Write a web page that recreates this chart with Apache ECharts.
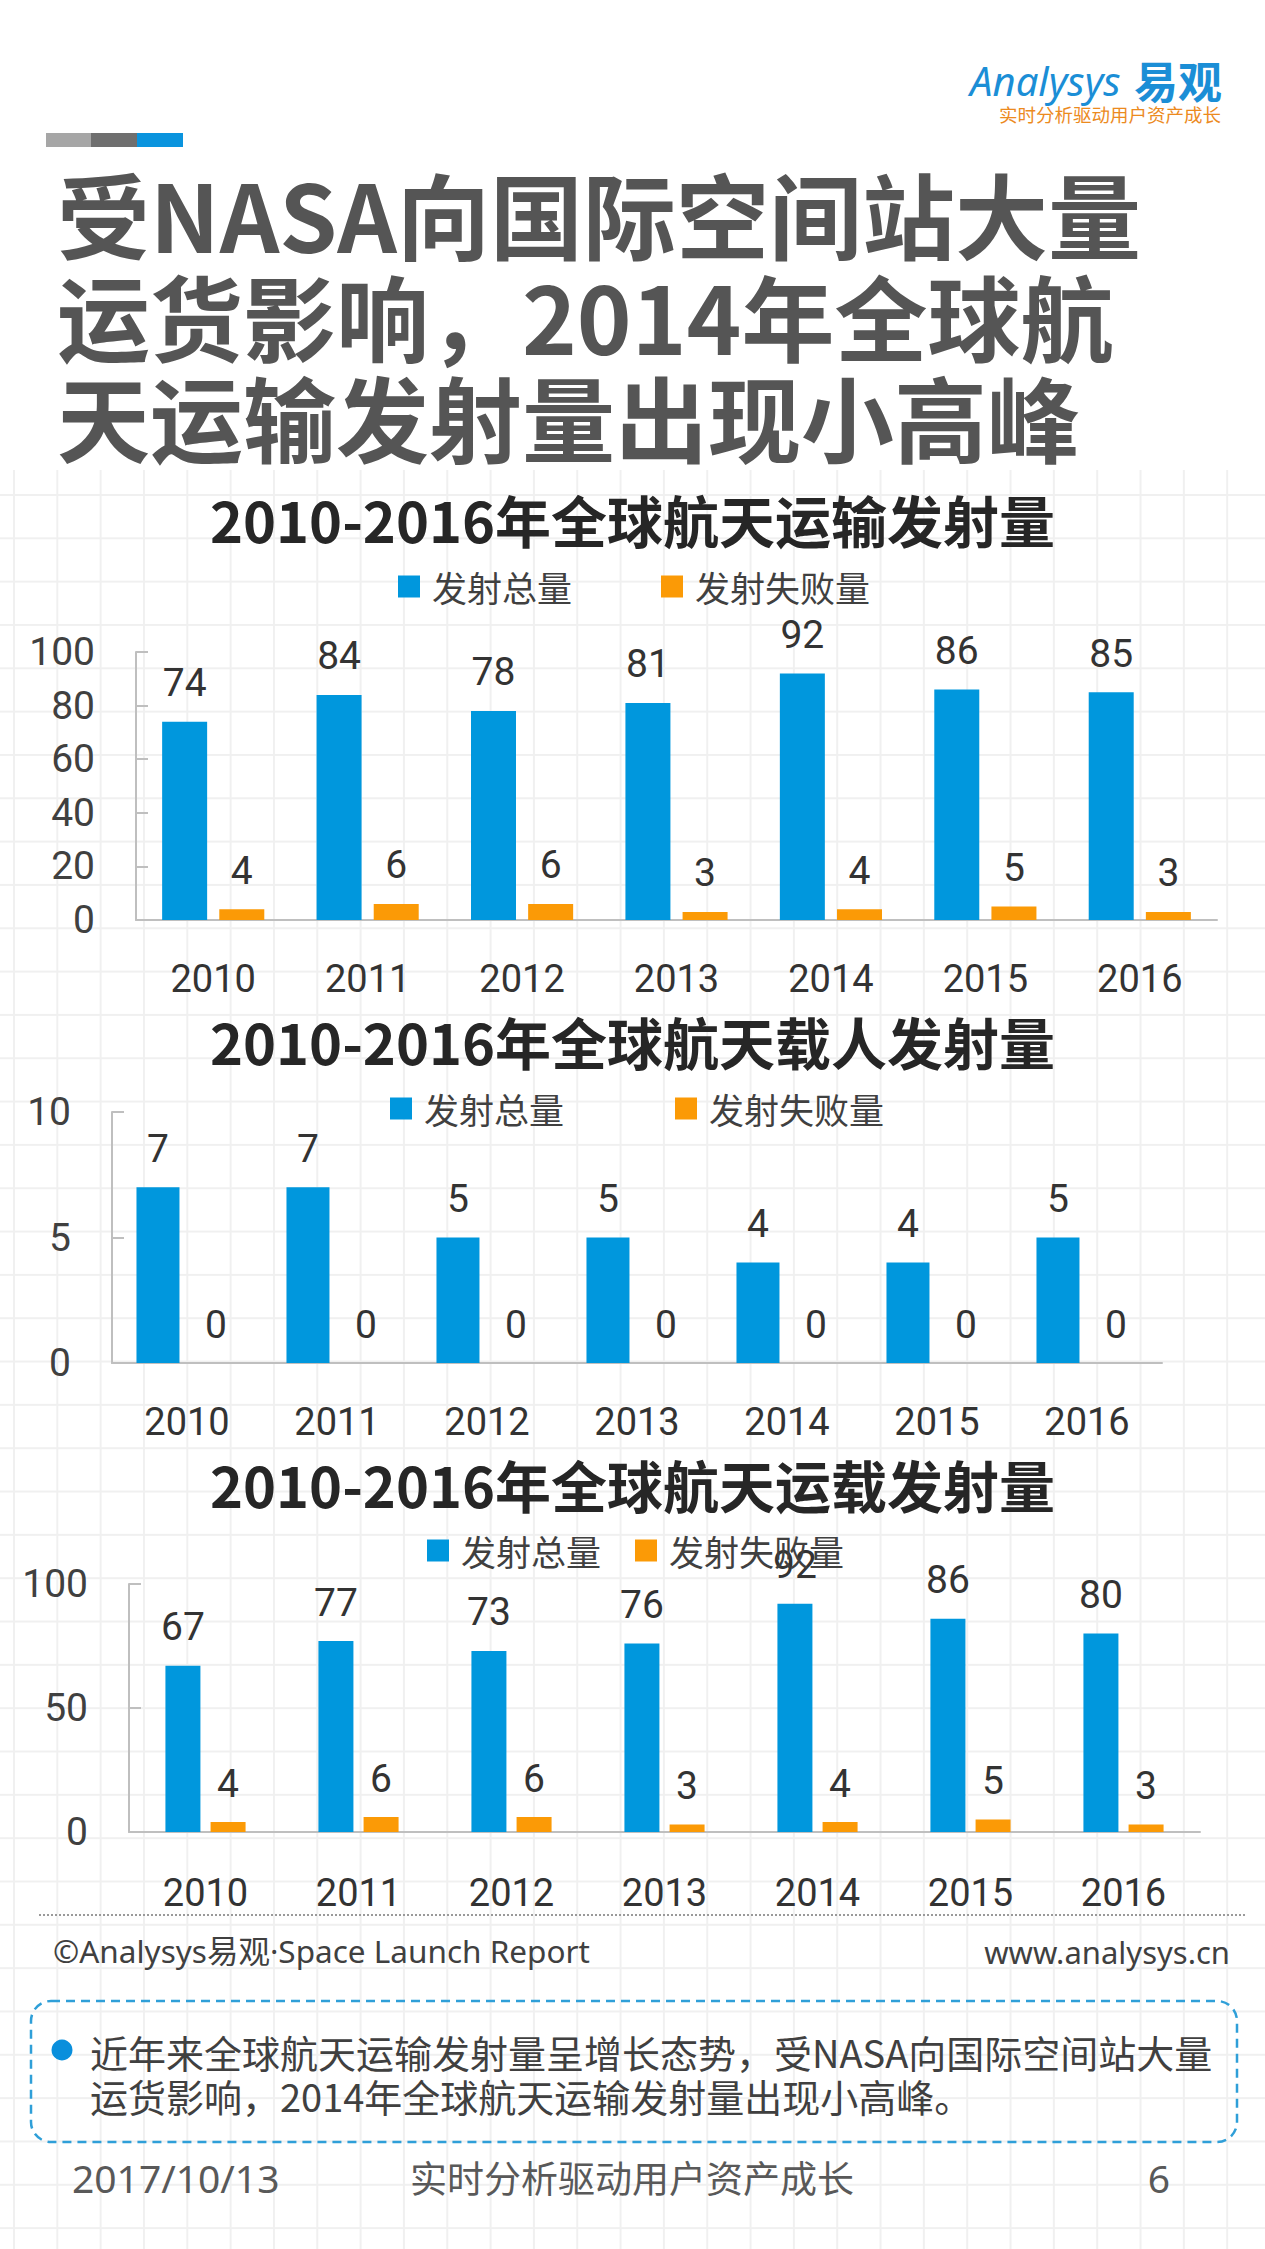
<!DOCTYPE html>
<html><head><meta charset="utf-8">
<script src="https://cdn.jsdelivr.net/npm/echarts@6/dist/echarts.min.js"></script>
<style>
html,body{margin:0;padding:0;background:#fff;}
#bg{position:absolute;left:0;top:470px;width:1265px;height:1779px;
 background-image: linear-gradient(to right, #f0f0f0 2px, transparent 2px), linear-gradient(to bottom, #f0f0f0 2px, transparent 2px);
 background-size: 43.33px 43.33px; background-position: 13px 24px;}
#chart{position:absolute;left:0;top:0;width:1265px;height:2249px;}
</style></head>
<body><div id="bg"></div><div id="chart"></div>
<script>
const years = ['2010','2011','2012','2013','2014','2015','2016'];
const transportTotal = [74,84,78,81,92,86,85];
const transportFail = [4,6,6,3,4,5,3];
const crewedTotal = [7,7,5,5,4,4,5];
const crewedFail = [0,0,0,0,0,0,0];
const cargoTotal = [67,77,73,76,92,86,80];
const cargoFail = [4,6,6,3,4,5,3];
const chartTitles = ['2010-2016年全球航天运输发射量','2010-2016年全球航天载人发射量','2010-2016年全球航天运载发射量'];
const seriesNames = ['发射总量','发射失败量'];
const yMax = [100, 10, 100];
const yInterval = [20, 5, 50];
const mainTitle = ['受NASA向国际空间站大量','运货影响，2014年全球航','天运输发射量出现小高峰'];
const summaryLines = ['近年来全球航天运输发射量呈增长态势，受NASA向国际空间站大量','运货影响，2014年全球航天运输发射量出现小高峰。'];

const FONT = '"Noto Sans CJK SC","Noto Sans",sans-serif';
const NUMFONT = 'Roboto,"Noto Sans",sans-serif';
const LATIN = '"Noto Sans","Noto Sans CJK SC",sans-serif';
const BLUE = '#0097dd', ORANGE = '#fb9a06';
const totals = [transportTotal, crewedTotal, cargoTotal];
const fails = [transportFail, crewedFail, cargoFail];

const grids = [
  {left:136, top:652, width:1081, height:268},
  {left:112, top:1112, width:1050, height:251},
  {left:129, top:1584, width:1071, height:248}
];
const titleTops = [490, 1012, 1455];
const legendPos = [{left:398, top:569, gap:89},{left:390, top:1091, gap:111},{left:427, top:1533, gap:34}];
const barW = [45, 43, 35];
const barG = ['27%', '35%', '29%'];
const xMargin = [40, 40, 42];

const chart = echarts.init(document.getElementById('chart'), null, {renderer:'svg'});
const option = {
  animation:false,
  textStyle:{fontFamily:FONT},
  title: chartTitles.map((t,i)=>({text:t, left:'center', top:titleTops[i], padding:0,
    textStyle:{fontSize:56, fontWeight:'bold', color:'#262626', fontFamily:FONT}})),
  legend: legendPos.map((p,i)=>({left:p.left, top:p.top, padding:0, itemGap:p.gap, itemWidth:22, itemHeight:22,
    icon:'rect', data:seriesNames, textStyle:{fontSize:35, color:'#404040', fontFamily:FONT, padding:[0,0,0,7]}})),
  grid: grids,
  xAxis: grids.map((g,i)=>({type:'category', gridIndex:i, data:years,
    axisLine:{lineStyle:{color:'#bfbfbf', width:2}}, axisTick:{show:false},
    axisLabel:{fontSize:38, color:'#333', margin:xMargin[i], fontFamily:NUMFONT}})),
  yAxis: grids.map((g,i)=>({type:'value', gridIndex:i, min:0, max:yMax[i], interval:yInterval[i],
    splitLine:{show:false}, axisLine:{show:true, lineStyle:{color:'#bfbfbf', width:2}},
    axisTick:{show:true, inside:true, length:12, lineStyle:{color:'#bfbfbf', width:2}},
    axisLabel:{fontSize:39, color:'#404040', margin:41, fontFamily:NUMFONT}})),
  series: [],
  graphic: []
};
for (let i=0;i<3;i++){
  [totals[i], fails[i]].forEach((d,k)=>{
    option.series.push({type:'bar', name:seriesNames[k], xAxisIndex:i, yAxisIndex:i, data:d,
      barWidth:barW[i], barGap:barG[i], itemStyle:{color:k===0?BLUE:ORANGE},
      label:{show:true, position:'top', distance:19, fontSize:39, color:'#333', fontFamily:NUMFONT}});
  });
}
const G = option.graphic;
// header bar
G.push({type:'rect', shape:{x:46,y:133,width:45,height:14}, style:{fill:'#a6a6a6'}});
G.push({type:'rect', shape:{x:91,y:133,width:46,height:14}, style:{fill:'#6f6f6f'}});
G.push({type:'rect', shape:{x:137,y:133,width:46,height:14}, style:{fill:'#0a94de'}});
// logo
G.push({type:'text', style:{text:'Analysys', x:970, y:80, fontSize:40, fontStyle:'italic', fontFamily:'"Noto Sans",sans-serif', fill:'#1b8ed6', verticalAlign:'middle'}});
G.push({type:'text', style:{text:'易观', x:1134, y:80, fontSize:44, fontWeight:'bold', fontFamily:FONT, fill:'#1b8ed6', verticalAlign:'middle'}});
G.push({type:'text', style:{text:'实时分析驱动用户资产成长', x:999, y:114, fontSize:18.5, fontFamily:FONT, fill:'#ec8a1e', verticalAlign:'middle'}});
// main title
const mtY = [212, 314, 415];
mainTitle.forEach((t,i)=>G.push({type:'text', style:{text:t, x:57, y:mtY[i], fontSize:93, fontWeight:'bold', fontFamily:FONT, fill:'#555555', verticalAlign:'middle'}}));
// footer
G.push({type:'line', shape:{x1:39,y1:1915,x2:1245,y2:1915}, style:{stroke:'#9a9a9a', lineWidth:2, lineDash:[2,2]}});
G.push({type:'text', style:{text:'©Analysys易观·Space Launch Report', x:53, y:1950, fontSize:31.5, fontFamily:LATIN, fill:'#404040', verticalAlign:'middle'}});
G.push({type:'text', style:{text:'www.analysys.cn', x:1230, y:1952, fontSize:31, fontFamily:LATIN, fill:'#404040', align:'right', verticalAlign:'middle'}});
G.push({type:'rect', shape:{x:31,y:2001,width:1206,height:141,r:20}, style:{fill:'none', stroke:'#2f9fd8', lineWidth:2.5, lineDash:[9,6]}});
G.push({type:'circle', shape:{cx:62,cy:2050,r:10.5}, style:{fill:'#0a8fdc'}});
G.push({type:'text', style:{text:summaryLines[0], x:90, y:2051, fontSize:38, fontFamily:FONT, fill:'#404040', verticalAlign:'middle'}});
G.push({type:'text', style:{text:summaryLines[1], x:90, y:2095, fontSize:38, fontFamily:FONT, fill:'#404040', verticalAlign:'middle'}});
G.push({type:'text', style:{text:'2017/10/13', x:72, y:2177, fontSize:39, fontFamily:LATIN, fill:'#595959', verticalAlign:'middle'}});
G.push({type:'text', style:{text:'实时分析驱动用户资产成长', x:632, y:2177, fontSize:37, fontFamily:FONT, fill:'#595959', align:'center', verticalAlign:'middle'}});
G.push({type:'text', style:{text:'6', x:1170, y:2177, fontSize:39, fontFamily:LATIN, fill:'#595959', align:'right', verticalAlign:'middle'}});
chart.setOption(option);
</script>
</body></html>
